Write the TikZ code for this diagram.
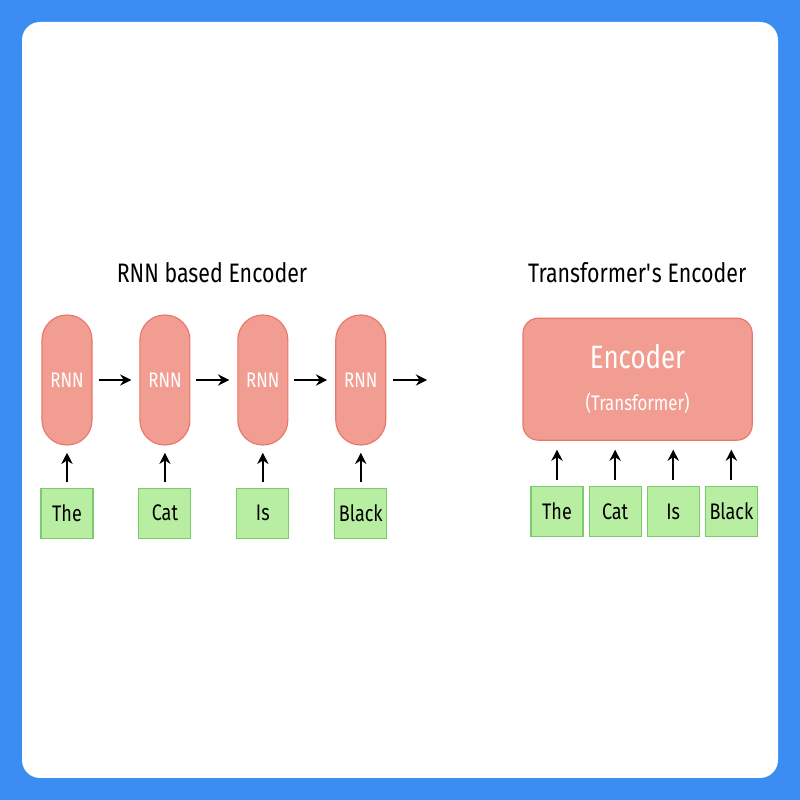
\documentclass[tikz,border=0pt]{standalone}
\usepackage{fontspec}
\setmainfont{Fira Sans}[FakeStretch=0.8]
\usetikzlibrary{positioning,arrows.meta}
\definecolor{rnnfill}{HTML}{F29D92}
\definecolor{rnnline}{HTML}{E8766B}
\definecolor{wordfill}{HTML}{B8EEA1}
\definecolor{wordline}{HTML}{7CCB6A}
\definecolor{framecol}{HTML}{3B8DF1}

\begin{document}
\begin{tikzpicture}[node distance=1.17cm, auto,
  rnn/.style={draw=rnnline, fill=rnnfill, line width=0.8pt, minimum width=1.25cm,
    minimum height=3.25cm, rounded corners=0.62cm, inner sep=0pt, text=white,
    font=\fontsize{15}{15}\selectfont},
  word/.style={draw=wordline, fill=wordfill, line width=0.8pt, minimum width=1.3cm,
    minimum height=1.25cm, inner sep=0pt, font=\fontsize{16}{16}\selectfont},
  title/.style={font=\fontsize{19}{19}\selectfont},
  flow/.style={-{Stealth[length=8pt,width=8pt]}, line width=1.5pt}]
% frame
\fill[framecol] (0,0) rectangle (20,20);
\fill[white, rounded corners=0.45cm] (0.55,0.55) rectangle (19.45,19.45);
\useasboundingbox (0,0) rectangle (20,20);

% RNN based encoder
\node[title] (rnntitle) at (5.3,13.18) {RNN based Encoder};
\node[rnn] (r1) at (1.675,10.5) {RNN};
\node[rnn] (r2) [right=of r1] {RNN};
\node[rnn] (r3) [right=of r2] {RNN};
\node[rnn] (r4) [right=of r3] {RNN};
\coordinate[right=1.02cm of r4] (rnnout);
\node[word] (w1) [below=1.05cm of r1] {The};
\node[word] (w2) [below=1.05cm of r2] {Cat};
\node[word] (w3) [below=1.05cm of r3] {Is};
\node[word] (w4) [below=1.05cm of r4] {Black};
\foreach \a/\b in {r1/r2, r2/r3, r3/r4}
  \draw[flow, shorten <=0.15cm, shorten >=0.2cm] (\a) -- (\b);
\draw[flow, shorten <=0.17cm] (r4) -- (rnnout);
\foreach \i in {1,...,4}
  \draw[flow, shorten <=0.13cm, shorten >=0.18cm] (w\i) -- (r\i);

% Transformer's encoder
\node[title] (tftitle) at (15.93,13.18) {Transformer\textquotesingle s Encoder};
\node[draw=rnnline, fill=rnnfill, line width=0.8pt, minimum width=5.73cm,
  minimum height=3.05cm, rounded corners=0.38cm, text=white, align=center]
  (enc) at (15.94,10.52)
  {\fontsize{23}{23}\selectfont Encoder\\[16pt]\fontsize{15}{15}\selectfont (Transformer)};
\node[word] (w5) at (13.925,7.21) {The};
\node[word] (w6) [right=0.125cm of w5] {Cat};
\node[word] (w7) [right=0.125cm of w6] {Is};
\node[word] (w8) [right=0.125cm of w7] {Black};
\foreach \i in {5,...,8}
  \draw[flow, shorten <=0.15cm, shorten >=0.22cm] (w\i) -- (w\i |- enc.south);
\end{tikzpicture}
\end{document}
